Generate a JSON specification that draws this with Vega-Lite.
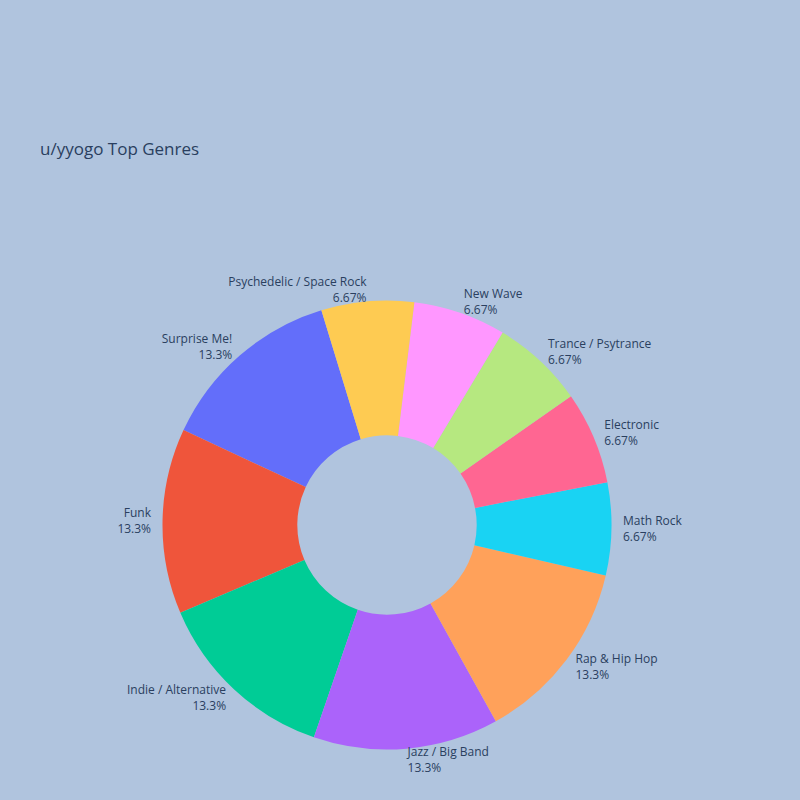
{
  "$schema": "https://vega.github.io/schema/vega-lite/v6.json",
  "autosize": "none",
  "width": 774,
  "height": 550,
  "padding": {"left": 0, "top": 250, "right": 26, "bottom": 0},
  "background": "#b0c4de",
  "config": {"view": {"stroke": null}, "font": "Open Sans"},
  "title": {
    "text": "u/yyogo Top Genres",
    "anchor": "start",
    "frame": "group",
    "dx": 40,
    "offset": 78,
    "baseline": "alphabetic",
    "fontSize": 17,
    "fontWeight": "normal",
    "font": "Open Sans",
    "color": "#2a3f5f"
  },
  "data": {
    "values": [
      {"idx": 0, "genre": "Surprise Me!", "count": 2, "label": ["Surprise Me!", "13.3%"]},
      {"idx": 1, "genre": "Funk", "count": 2, "label": ["Funk", "13.3%"]},
      {"idx": 2, "genre": "Indie / Alternative", "count": 2, "label": ["Indie / Alternative", "13.3%"]},
      {"idx": 3, "genre": "Jazz / Big Band", "count": 2, "label": ["Jazz / Big Band", "13.3%"]},
      {"idx": 4, "genre": "Rap & Hip Hop", "count": 2, "label": ["Rap & Hip Hop", "13.3%"]},
      {"idx": 5, "genre": "Math Rock", "count": 1, "label": ["Math Rock", "6.67%"]},
      {"idx": 6, "genre": "Electronic", "count": 1, "label": ["Electronic", "6.67%"]},
      {"idx": 7, "genre": "Trance / Psytrance", "count": 1, "label": ["Trance / Psytrance", "6.67%"]},
      {"idx": 8, "genre": "New Wave", "count": 1, "label": ["New Wave", "6.67%"]},
      {"idx": 9, "genre": "Psychedelic / Space Rock", "count": 1, "label": ["Psychedelic / Space Rock", "6.67%"]}
    ]
  },
  "layer": [
    {
      "mark": {"type": "arc", "outerRadius": 224.5, "innerRadius": 89.7, "stroke": null},
      "encoding": {
        "theta": {"field": "count", "type": "quantitative", "stack": true,
          "scale": {"range": [-0.29671, 5.98648]}},
        "order": {"field": "idx", "type": "quantitative", "sort": "descending"},
        "color": {
          "field": "genre", "type": "nominal", "legend": null,
          "scale": {
            "domain": ["Surprise Me!", "Funk", "Indie / Alternative", "Jazz / Big Band", "Rap & Hip Hop", "Math Rock", "Electronic", "Trance / Psytrance", "New Wave", "Psychedelic / Space Rock"],
            "range": ["#636efa", "#EF553B", "#00cc96", "#ab63fa", "#FFA15A", "#19d3f3", "#FF6692", "#B6E880", "#FF97FF", "#FECB52"]
          }
        }
      }
    },
    {
      "mark": {"type": "text", "radius": 236, "align": "left", "baseline": "middle", "dy": -8, "fontSize": 12, "lineHeight": 16, "font": "Open Sans", "color": "#2a3f5f"},
      "encoding": {
        "theta": {"field": "count", "type": "quantitative", "stack": true,
          "scale": {"range": [-0.29671, 5.98648]}},
        "order": {"field": "idx", "type": "quantitative", "sort": "descending"},
        "text": {"field": "label", "type": "nominal"},
        "opacity": {"condition": {"test": "datum.idx >= 3 && datum.idx <= 8", "value": 1}, "value": 0}
      }
    },
    {
      "mark": {"type": "text", "radius": 236, "align": "right", "baseline": "middle", "dy": -8, "fontSize": 12, "lineHeight": 16, "font": "Open Sans", "color": "#2a3f5f"},
      "encoding": {
        "theta": {"field": "count", "type": "quantitative", "stack": true,
          "scale": {"range": [-0.29671, 5.98648]}},
        "order": {"field": "idx", "type": "quantitative", "sort": "descending"},
        "text": {"field": "label", "type": "nominal"},
        "opacity": {"condition": {"test": "datum.idx <= 2 || datum.idx == 9", "value": 1}, "value": 0}
      }
    }
  ]
}
